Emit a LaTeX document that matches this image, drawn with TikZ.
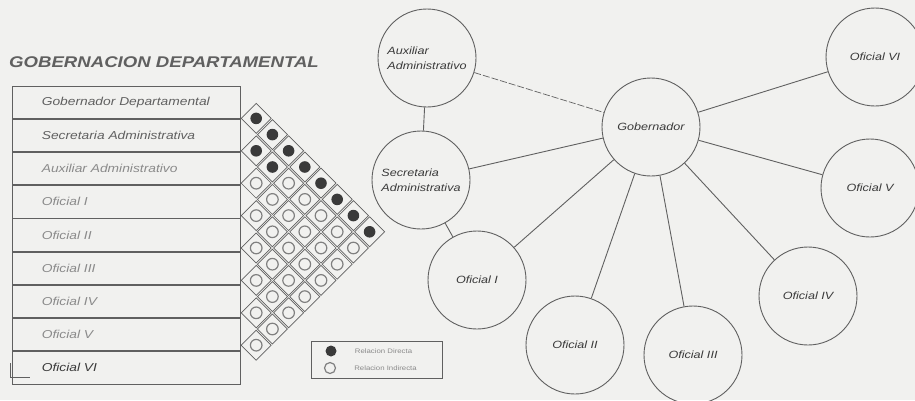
\documentclass[tikz,border=0pt]{standalone}
\usepackage{fontspec}
\newfontfamily\scanfont[FakeStretch=1.2]{Liberation Sans}
\usetikzlibrary{positioning}
\definecolor{scanbg}{HTML}{F1F1EF}
\definecolor{inkdark}{HTML}{3A3A3A}
\definecolor{inkmid}{HTML}{606060}
\definecolor{inklight}{HTML}{8A8A8A}

\begin{document}
\begin{tikzpicture}[x=1pt,y=-1pt,node distance=0pt,
 rowbox/.style={draw=inkmid,line width=.8pt,minimum width=228,minimum height=32.4,inner sep=0},
 rowtxt/.style={inner sep=0,font=\scanfont\itshape\fontsize{11.5}{13}\selectfont,text=inklight},
 circ/.style={circle,draw=inkmid,line width=.9pt,minimum size=98,inner sep=0,align=left,
  font=\scanfont\itshape\fontsize{10.5}{15}\selectfont,text=inkdark},
 link/.style={draw=inkmid,line width=.9pt},
 cellline/.style={draw=inkmid,line width=.7pt},
 dotfull/.style={fill=inkdark},
 dotopen/.style={draw=inkmid!80,line width=1.2pt},
 legtxt/.style={inner sep=0,font=\scanfont\fontsize{6.5}{8}\selectfont,text=inklight}]
\useasboundingbox (0,0) rectangle (915,400);
\fill[scanbg] (0,0) rectangle (915,400);

\node[anchor=west,inner sep=0,font=\scanfont\bfseries\itshape\fontsize{15.5}{18}\selectfont,text=inkmid]
 (title) at (9,62) {GOBERNACION DEPARTAMENTAL};

\node[rowbox] (r1) at (126,102.2) {};
\node[rowbox,below=of r1] (r2) {};
\node[rowbox,below=of r2] (r3) {};
\node[rowbox,below=of r3] (r4) {};
\node[rowbox,below=of r4] (r5) {};
\node[rowbox,below=of r5] (r6) {};
\node[rowbox,below=of r6] (r7) {};
\node[rowbox,below=of r7] (r8) {};
\node[rowbox,below=of r8] (r9) {};
\node[rowtxt,text=inkmid,right=30pt of r1.west] (t1) {Gobernador Departamental};
\node[rowtxt,text=inkmid,right=30pt of r2.west] (t2) {Secretaria Administrativa};
\node[rowtxt,right=30pt of r3.west] (t3) {Auxiliar Administrativo};
\node[rowtxt,right=30pt of r4.west] (t4) {Oficial I};
\node[rowtxt,right=30pt of r5.west] (t5) {Oficial II};
\node[rowtxt,right=30pt of r6.west] (t6) {Oficial III};
\node[rowtxt,right=30pt of r7.west] (t7) {Oficial IV};
\node[rowtxt,right=30pt of r8.west] (t8) {Oficial V};
\node[rowtxt,text=inkdark,right=30pt of r9.west] (t9) {Oficial VI};
\draw[inkmid,line width=.7pt] (10,363) |- (30,377);

\foreach \i in {1,...,8}{
 \pgfmathtruncatemacro\k{\i+1}
 \foreach \j in {\k,...,9}{
  \pgfmathsetmacro\cx{240+(\j-\i)*16.2}
  \pgfmathsetmacro\cy{86+(\i+\j-1)*16.2}
  \pgfmathtruncatemacro\rel{(\i==1)||((\i==2)&&(\j<5))}
  \draw[cellline,shift={(\cx,\cy)}] (-15,0) -- (0,-15) -- (15,0) -- (0,15) -- cycle;
  \ifnum\rel=1
   \fill[dotfull] (\cx,\cy) circle (5.8pt);
  \else
   \draw[dotopen] (\cx,\cy) circle (5.8pt);
  \fi
 }
}

\node[draw=inkmid,line width=.7pt,minimum width=131,minimum height=37,inner sep=0] (leg) at (376.5,359.5) {};
\node[circle,fill=inkdark,minimum size=11,inner sep=0] (ld) at (331,351) {};
\node[circle,draw=inkmid!80,line width=1.2pt,minimum size=11,inner sep=0] (li) at (330,368) {};
\node[legtxt,right=18pt of ld] (tld) {Relacion Directa};
\node[legtxt,right=18pt of li] (tli) {Relacion Indirecta};

\node[circ] (aux) at (427,58) {Auxiliar\\Administrativo};
\node[circ] (sec) at (421,180) {Secretaria\\Administrativa};
\node[circ] (gob) at (651,127) {Gobernador};
\node[circ] (of1) at (477,280) {Oficial I};
\node[circ] (of2) at (575,345) {Oficial II};
\node[circ] (of3) at (693,355) {Oficial III};
\node[circ] (of4) at (808,296) {Oficial IV};
\node[circ] (of5) at (870,188) {Oficial V};
\node[circ] (of6) at (875,57) {Oficial VI};

\draw[link,line width=.7pt,dash pattern=on 7pt off 2pt] (aux) -- (gob);
\draw[link] (aux) -- (sec);
\draw[link] (sec) -- (gob);
\draw[link] (sec) -- (of1);
\draw[link] (gob) -- (of1);
\draw[link] (gob) -- (of2);
\draw[link] (gob) -- (of3);
\draw[link] (gob) -- (of4);
\draw[link] (gob) -- (of5);
\draw[link] (gob) -- (of6);
\end{tikzpicture}
\end{document}
